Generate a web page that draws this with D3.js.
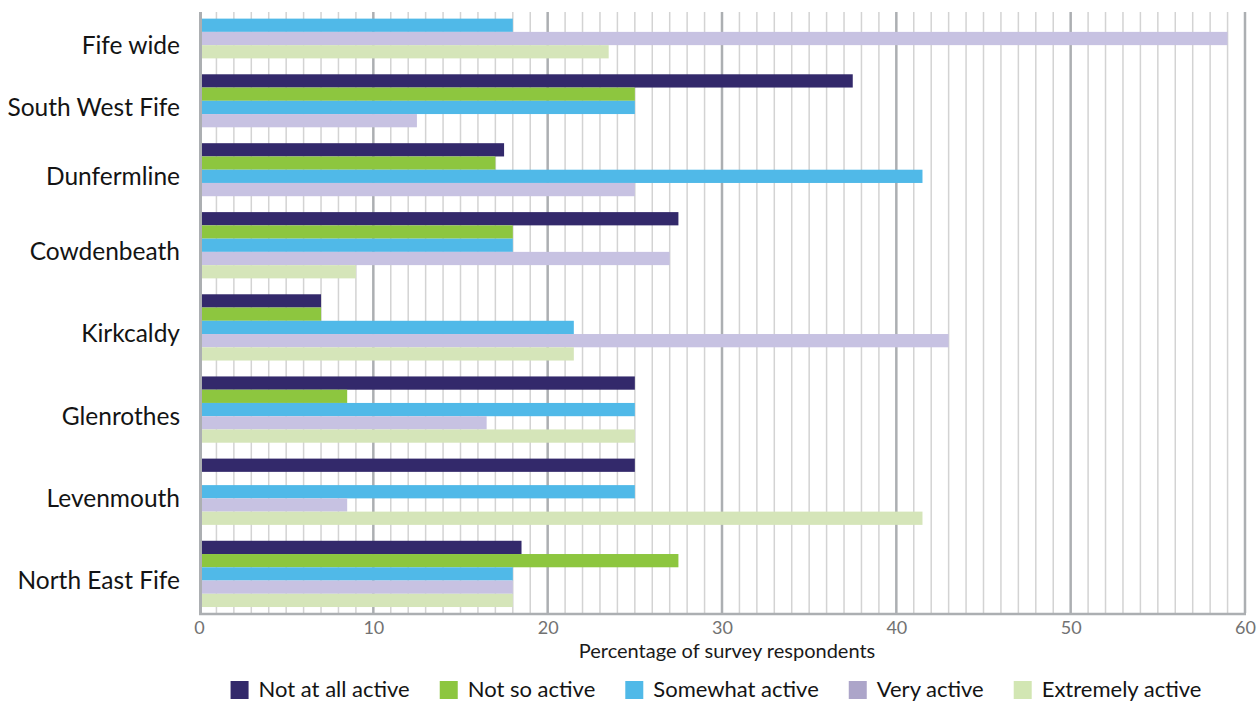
<!DOCTYPE html>
<html>
<head>
<meta charset="utf-8">
<script src="https://cdn.jsdelivr.net/npm/d3@7"></script>
<style>
  html, body { margin: 0; padding: 0; background: #ffffff; }
  svg { display: block; }
  text { font-family: Lato, "Open Sans", sans-serif; }
</style>
</head>
<body>
<svg id="chart" width="1257" height="704"></svg>
<script>
// Areas, top to bottom
const categories = [
  "Fife wide", "South West Fife", "Dunfermline", "Cowdenbeath",
  "Kirkcaldy", "Glenrothes", "Levenmouth", "North East Fife"
];

// Activity levels (legend order)
const seriesNames = [
  "Not at all active", "Not so active", "Somewhat active", "Very active", "Extremely active"
];

// Percentage of survey respondents per area; null = no response recorded for that level
const notAtAllActive  = [null, 37.5, 17.5, 27.5, 7,    25,   25,   18.5];
const notSoActive     = [null, 25,   17,   18,   7,    8.5,  0,    27.5];
const somewhatActive  = [18,   25,   41.5, 18,   21.5, 25,   25,   18];
const veryActive      = [59,   12.5, 25,   27,   43,   16.5, 8.5,  18];
const extremelyActive = [23.5, null, null, 9,    21.5, 25,   41.5, 18];

// X axis ticks
const xTicks = [0, 10, 20, 30, 40, 50, 60];

const seriesValues = [notAtAllActive, notSoActive, somewhatActive, veryActive, extremelyActive];
const barColors    = ["#33296b", "#8dc63f", "#50b9e8", "#c7c2e2", "#d5e5b9"];
const swatchColors = ["#33296b", "#8dc63f", "#50b9e8", "#aca5c9", "#d2e6b3"];

const svg = d3.select("#chart");
const plot = { left: 199, right: 1245, top: 12, bottom: 613 };

const x = d3.scaleLinear().domain([0, 60]).range([plot.left, plot.right]);

// Each area gets one slot per recorded level; areas are separated by a fixed gap.
const GAP = 1.2, PAD_TOP = 0.5, PAD_BOTTOM = 0.45;
const groups = [];
let cursor = PAD_TOP;
categories.forEach((cat, i) => {
  if (i > 0) cursor += GAP;
  const bars = [];
  seriesValues.forEach((vals, s) => {
    if (vals[i] !== null) bars.push({ cat, s, value: vals[i], slot: cursor + bars.length });
  });
  groups.push({ cat, start: cursor, end: cursor + bars.length, bars });
  cursor += bars.length;
});
cursor += PAD_BOTTOM;

const y = d3.scaleLinear().domain([0, cursor]).range([plot.top, plot.bottom]);

// Grid: minor every 1%, major every 10%
const grid = svg.append("g");
grid.selectAll("line.minor")
  .data(d3.range(1, 60).filter(v => v % 10 !== 0))
  .join("line")
  .attr("x1", d => x(d)).attr("x2", d => x(d))
  .attr("y1", plot.top).attr("y2", plot.bottom)
  .attr("stroke", "#d3d3d3").attr("stroke-width", 1.5);
grid.selectAll("line.major")
  .data(xTicks.filter(v => v > 0))
  .join("line")
  .attr("x1", d => x(d)).attr("x2", d => x(d))
  .attr("y1", plot.top).attr("y2", plot.bottom)
  .attr("stroke", "#acafb2").attr("stroke-width", 2.5);

// Bars
const allBars = groups.flatMap(g => g.bars);
svg.append("g").selectAll("rect")
  .data(allBars)
  .join("rect")
  .attr("x", x(0))
  .attr("y", d => y(d.slot))
  .attr("width", d => x(d.value) - x(0))
  .attr("height", d => y(d.slot + 1) - y(d.slot))
  .attr("fill", d => barColors[d.s]);

// Axis lines
svg.append("line")
  .attr("x1", x(0) + 1.5).attr("x2", x(0) + 1.5)
  .attr("y1", plot.top).attr("y2", plot.bottom + 2)
  .attr("stroke", "#acafb2").attr("stroke-width", 3);
svg.append("line")
  .attr("x1", x(0)).attr("x2", plot.right + 1)
  .attr("y1", plot.bottom + 1).attr("y2", plot.bottom + 1)
  .attr("stroke", "#acafb2").attr("stroke-width", 2.5);

// X axis tick labels
const xAxis = d3.axisBottom(x).tickValues(xTicks).tickSize(0).tickPadding(0);
const xg = svg.append("g")
  .attr("transform", `translate(0,${plot.bottom + 8})`)
  .call(xAxis);
xg.select(".domain").remove();
xg.selectAll("text")
  .attr("dy", "0.71em")
  .attr("fill", "#727272")
  .attr("font-size", 18)
  .attr("font-family", "Lato, sans-serif");

// Axis title
svg.append("text")
  .attr("x", 727).attr("y", 658)
  .attr("text-anchor", "middle")
  .attr("font-size", 20)
  .attr("fill", "#1a1a1a")
  .text("Percentage of survey respondents");

// Category labels
svg.append("g").selectAll("text")
  .data(groups)
  .join("text")
  .attr("x", 180)
  .attr("y", g => (y(g.start) + y(g.end)) / 2 + 15)
  .attr("text-anchor", "end")
  .attr("font-size", 24.5)
  .attr("fill", "#141414")
  .text(g => g.cat);

// Legend
const legend = svg.append("g");
const items = legend.selectAll("g")
  .data(seriesNames)
  .join("g");
items.append("rect")
  .attr("width", 18).attr("height", 18)
  .attr("y", 681)
  .attr("fill", (d, i) => swatchColors[i]);
items.append("text")
  .attr("x", 28).attr("y", 697)
  .attr("font-size", 22)
  .attr("fill", "#141414")
  .text(d => d);
const widths = [];
items.each(function () {
  widths.push(28 + this.querySelector("text").getComputedTextLength());
});
const legendGap = 30;
const total = d3.sum(widths) + legendGap * (widths.length - 1);
let lx = 716 - total / 2;
items.attr("transform", (d, i) => {
  const t = `translate(${lx},0)`;
  lx += widths[i] + legendGap;
  return t;
});
</script>
</body>
</html>
